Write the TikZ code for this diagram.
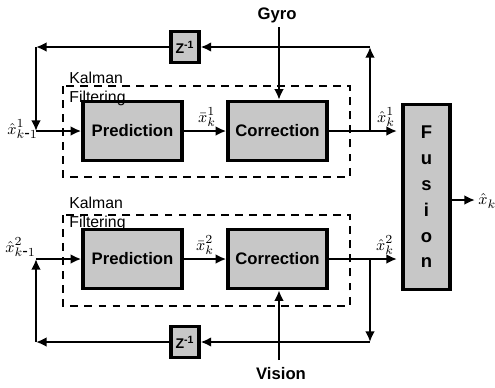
\documentclass[tikz,border=0pt]{standalone}
\usepackage{fontspec}
\setmainfont{Liberation Sans}
\usetikzlibrary{arrows.meta}

\tikzset{
	block/.style={draw, line width=2pt, fill=black!22, minimum width=1.98cm, minimum height=1.18cm, font=\fontsize{9.5}{11}\selectfont\bfseries},
	delaybox/.style={draw, line width=1.8pt, fill=black!22, minimum width=0.56cm, minimum height=0.62cm, inner sep=0pt, font=\fontsize{8}{9}\selectfont\bfseries},
	flow/.style={line width=1.5pt, -{Latex[length=6pt, width=5.5pt]}},
	filterbox/.style={line width=1.5pt, dash pattern=on 4.5pt off 3.5pt},
	lbl/.style={inner sep=0pt, font=\fontsize{9.5}{11}\selectfont}
}

\begin{document}
\begin{tikzpicture}[x=0.02cm, y=-0.02cm]
		
		\useasboundingbox (0,0) rectangle (495,387);
		
		\coordinate (T1) at (370,47);
		\coordinate (L1) at (36,47);
		\coordinate (L1b) at (36,131);
		\coordinate (J1) at (370,131);
		\coordinate (O1) at (397,131);
		\coordinate (B2) at (370,342);
		\coordinate (L2) at (36,342);
		\coordinate (L2b) at (36,259);
		\coordinate (J2) at (370,259);
		\coordinate (O2) at (397,259);
		\coordinate (gyroIn) at (279,27);
		\coordinate (visionIn) at (279,360);
		\coordinate (fusOut) at (475,200);
		
		% Kalman filter frames
		\draw[filterbox] (63,86) rectangle (350,177);
		\draw[filterbox] (63,215) rectangle (350,306);
		
		% Blocks
		\node[block] (pred1) at (132.5,131) {Prediction};
		\node[block] (corr1) at (277.5,131) {Correction};
		\node[block] (pred2) at (132.5,259) {Prediction};
		\node[block] (corr2) at (277.5,259) {Correction};
		\node[block, minimum width=0.94cm, minimum height=3.7cm, font=\fontsize{10.5}{14.7}\selectfont\bfseries, align=center] (fusion) at (426.5,197) {F\\u\\s\\i\\o\\n};
		\node[delaybox] (z1) at (185,47) {Z\textsuperscript{-1}};
		\node[delaybox] (z2) at (185,342) {Z\textsuperscript{-1}};
		
		% Upper filter
		\draw[flow] (pred1) -- (corr1);
		\draw[flow] (corr1) -- (O1);
		\draw[flow] (J1) -- (T1);
		\draw[flow] (T1) -- (z1);
		\draw[flow] (z1) -- (L1);
		\draw[flow] (L1) -- (L1b);
		\draw[flow] (L1b) -- (pred1);
		\draw[flow] (gyroIn) -- (gyroIn |- corr1.north);
		
		% Lower filter
		\draw[flow] (pred2) -- (corr2);
		\draw[flow] (corr2) -- (O2);
		\draw[flow] (J2) -- (B2);
		\draw[flow] (B2) -- (z2);
		\draw[flow] (z2) -- (L2);
		\draw[flow] (L2) -- (L2b);
		\draw[flow] (L2b) -- (pred2);
		\draw[flow] (visionIn) -- (visionIn |- corr2.south);
		
		% Fusion output
		\draw[flow] (fusion.east |- fusOut) -- (fusOut);
		
		% Labels
		\node[font=\fontsize{9.5}{11}\selectfont\bfseries] (gyro) at (277,15) {Gyro};
		\node[font=\fontsize{9.5}{11}\selectfont\bfseries] (vision) at (281,374) {Vision};
		\node[anchor=north west, align=left, inner sep=0pt, font=\fontsize{9}{10.5}\selectfont] (kal1) at (69,72) {Kalman\\Filtering};
		\node[anchor=north west, align=left, inner sep=0pt, font=\fontsize{9}{10.5}\selectfont] (kal2) at (69,197) {Kalman\\Filtering};
		\node[lbl, anchor=west] (xin1) at (7,129) {$\hat{x}^{1}_{k\mbox{-}1}$};
		\node[lbl, anchor=south] (xbar1) at (207,127) {$\bar{x}^{1}_{k}$};
		\node[lbl, anchor=south] (xout1) at (386,127) {$\hat{x}^{1}_{k}$};
		\node[lbl, anchor=west] (xin2) at (5,247) {$\hat{x}^{2}_{k\mbox{-}1}$};
		\node[lbl, anchor=south] (xbar2) at (205,255) {$\bar{x}^{2}_{k}$};
		\node[lbl, anchor=south] (xout2) at (385,255) {$\hat{x}^{2}_{k}$};
		\node[lbl, anchor=west] (xfus) at (478,201) {$\hat{x}_{k}$};
		
	\end{tikzpicture}
\end{document}
